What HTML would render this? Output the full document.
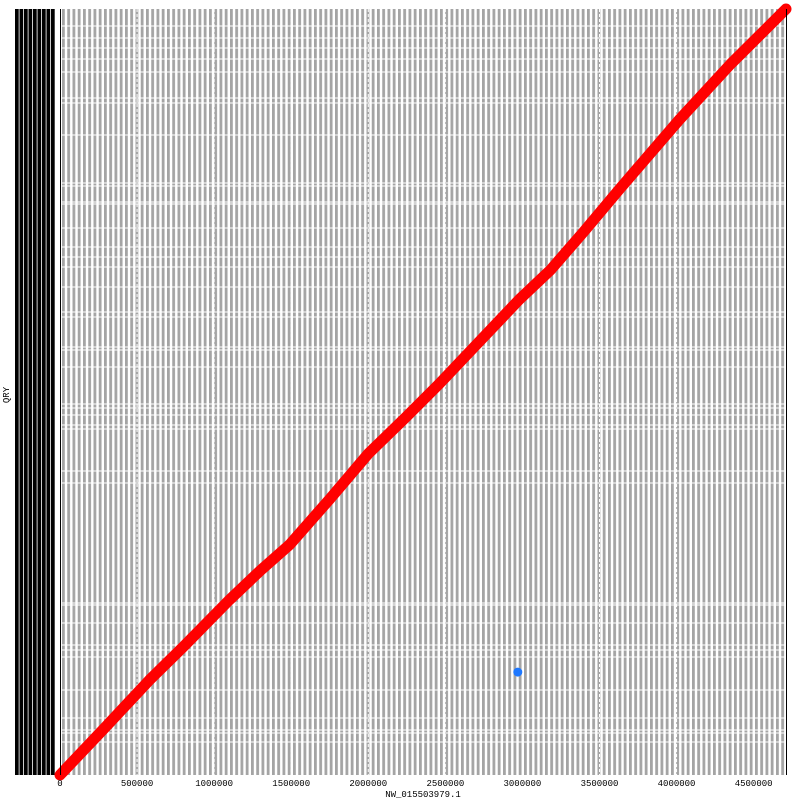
<!DOCTYPE html>
<html><head><meta charset="utf-8"><style>
html,body{margin:0;padding:0;background:#fff;width:800px;height:800px;overflow:hidden}
svg text{font-family:"Liberation Mono",monospace;font-size:9px;fill:#000}
</style></head><body>
<svg id="chart" width="800" height="800" xmlns="http://www.w3.org/2000/svg">
<defs>
<pattern id="vstripes" patternUnits="userSpaceOnUse" x="62" y="0" width="5.25" height="10"><rect x="0" y="0" width="2.8" height="10" fill="#a4a4a4"/></pattern>
<pattern id="blkstripes" patternUnits="userSpaceOnUse" x="15" y="0" width="4.5" height="10"><rect x="0" y="0" width="3.7" height="10" fill="#000"/></pattern>
</defs>
<rect x="15" y="9" width="40" height="766" fill="url(#blkstripes)"/>
<rect x="62" y="9" width="724" height="766" fill="url(#vstripes)"/>
<g id="hgaps"></g><g id="vdots"></g><g id="marks"></g><g id="ticks"></g>
<line x1="60.5" y1="9" x2="60.5" y2="775" stroke="#000" stroke-width="1"/>
<line x1="786.5" y1="9" x2="786.5" y2="775" stroke="#000" stroke-width="1"/>
<text x="423" y="797" text-anchor="middle">NW_015503979.1</text>
<text x="0" y="0" text-anchor="middle" transform="translate(9,395) rotate(-90)">QRY</text>
</svg>
<script>
const xTicks=[0,500000,1000000,1500000,2000000,2500000,3000000,3500000,4000000,4500000];
const contigBreaks=[26,38,48,59,72,98,103,135,183,186,202,204,228,247,257,267,287,312,317,347,350,367,404,408,415,425,429,471,483,603,605,623,645,650,657,690,718,730,733,742];
const alignX=[0,300000,580000,800000,1100000,1300000,1490000,1750000,2000000,2250000,2460000,2700000,2980000,3180000,3400000,3630000,4020000,4350000,4710000];
const alignY=[0,300000,585000,790000,1080000,1260000,1420000,1700000,1980000,2210000,2410000,2650000,2930000,3110000,3350000,3610000,4040000,4380000,4720000];
const outlierX=[2970000];
const outlierY=[634000];
const NS="http://www.w3.org/2000/svg";
const X0=60,X1=786,Y0=775,Y1=9,XMAX=4710000,YMAX=4720000;
const sx=v=>X0+v/XMAX*(X1-X0);
const sy=v=>Y0-v/YMAX*(Y0-Y1);
const hg=document.getElementById('hgaps');
contigBreaks.forEach(y=>{const r=document.createElementNS(NS,'rect');


r.setAttribute('x',62);r.setAttribute('y',y-0.5);r.setAttribute('width',724);r.setAttribute('height',1);r.setAttribute('fill','#fff');hg.appendChild(r);});
const vd=document.getElementById('vdots'),tk=document.getElementById('ticks');
xTicks.forEach(v=>{const x=sx(v);
if(v>0){const l=document.createElementNS(NS,'line');


l.setAttribute('x1',x);l.setAttribute('x2',x);l.setAttribute('y1',9);l.setAttribute('y2',775);l.setAttribute('stroke','#fff');l.setAttribute('stroke-width',1);l.setAttribute('stroke-dasharray','3,2');vd.appendChild(l);}
const t=document.createElementNS(NS,'text');


t.setAttribute('x',x);t.setAttribute('y',786);t.setAttribute('text-anchor','middle');t.textContent=String(v);tk.appendChild(t);});
const mk=document.getElementById('marks');
let d='';alignX.forEach((v,i)=>{d+=(i?'L':'M')+sx(v).toFixed(1)+','+sy(alignY[i]).toFixed(1);});
const p=document.createElementNS(NS,'path');


p.setAttribute('d',d);p.setAttribute('stroke','#ff0000');p.setAttribute('stroke-width',11);p.setAttribute('fill','none');p.setAttribute('stroke-linecap','round');p.setAttribute('stroke-linejoin','round');mk.appendChild(p);
outlierX.forEach((v,i)=>{const c=document.createElementNS(NS,'circle');


c.setAttribute('cx',sx(v));c.setAttribute('cy',sy(outlierY[i]));c.setAttribute('r',4.5);c.setAttribute('fill','#1e78ff');mk.appendChild(c);});
</script>
</body></html>
